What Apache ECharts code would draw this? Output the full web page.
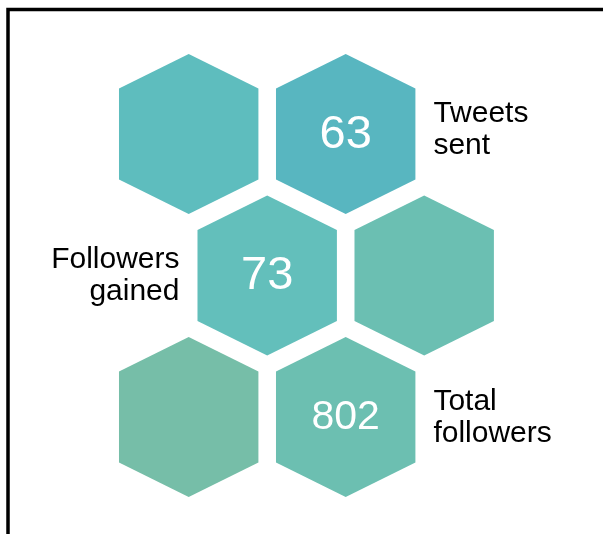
<!DOCTYPE html>
<html>
<head>
<meta charset="utf-8">
<script src="https://cdn.jsdelivr.net/npm/echarts@6/dist/echarts.min.js"></script>
<style>
  html, body { margin: 0; padding: 0; background: #fff; }
  #hexChart { width: 603px; height: 534px; }
</style>
</head>
<body>
<div id="hexChart"></div>
<script>
// hexagon lattice: half-column steps across, row steps down
const hexCols = [0, 2, 1, 3, 0, 2];
const hexRows = [0, 0, 1, 1, 2, 2];
const hexValues = [null, 63, 73, null, null, 802];
const hexLabels = ["", "Tweets\nsent", "Followers\ngained", "", "", "Total\nfollowers"];

// styling
const hexColors = ["#5ebdbe", "#58b6c0", "#63bfbb", "#6bbfb2", "#76bea8", "#6cbfb1"];
const labelSide = ["right", "right", "left", "right", "right", "right"];
const labelDy = [0, -4, 0, 0, 0, 1];
const FONT = "'Liberation Sans', Arial, sans-serif";
const HEX_HALF_W = 0.888;  // of one column step
const HEX_HALF_H = 0.565;  // of one row step
const HEX_SIDE_H = 0.322;  // of one row step
const LABEL_GAP = 18;

const chart = echarts.init(document.getElementById("hexChart"));

const seriesData = hexCols.map((c, i) => [c, hexRows[i], hexValues[i], hexLabels[i]]);

const renderHex = (params, api) => {
  const i = params.dataIndex;
  const [cx, cy] = api.coord([api.value(0), api.value(1)]);
  const unit = api.size([1, 1]);
  const hw = unit[0] * HEX_HALF_W;
  const hh = unit[1] * HEX_HALF_H;
  const sh = unit[1] * HEX_SIDE_H;
  const children = [
    {
      type: "polygon",
      shape: {
        points: [
          [cx, cy - hh],
          [cx + hw, cy - sh],
          [cx + hw, cy + sh],
          [cx, cy + hh],
          [cx - hw, cy + sh],
          [cx - hw, cy - sh],
        ],
      },
      style: { fill: hexColors[i] },
    },
  ];
  const value = hexValues[i];
  if (value !== null) {
    children.push({
      type: "text",
      style: {
        text: String(value),
        x: cx,
        y: cy + 1,
        align: "center",
        verticalAlign: "middle",
        fill: "#fff",
        fontFamily: FONT,
        fontSize: String(value).length > 2 ? 41 : 47,
      },
    });
  }
  const label = hexLabels[i];
  if (label) {
    const left = labelSide[i] === "left";
    children.push({
      type: "text",
      style: {
        text: label,
        x: left ? cx - hw - LABEL_GAP : cx + hw + LABEL_GAP,
        y: cy + labelDy[i],
        align: left ? "right" : "left",
        verticalAlign: "middle",
        fill: "#000",
        fontFamily: FONT,
        fontSize: 30,
        lineHeight: 32,
      },
    });
  }
  return { type: "group", children };
};

const getChartOption = () => {
  return {
    animation: false,
    graphic: [
      {
        type: "rect",
        shape: { x: 8, y: 9.5, width: 800, height: 800 },
        style: { fill: "none", stroke: "#000", lineWidth: 3.5 },
        z: 0,
      },
    ],
    grid: {
      left: 31.7,
      width: 549.5,
      top: 63.25,
      height: 424.5,
    },
    xAxis: { type: "value", min: -2, max: 5, show: false },
    yAxis: { type: "value", min: -0.5, max: 2.5, inverse: true, show: false },
    series: [
      {
        type: "custom",
        renderItem: renderHex,
        clip: false,
        data: seriesData,
        z: 2,
      },
    ],
  };
};

chart.setOption(getChartOption());
window.addEventListener("resize", () => {
  chart.resize();
});
</script>
</body>
</html>
